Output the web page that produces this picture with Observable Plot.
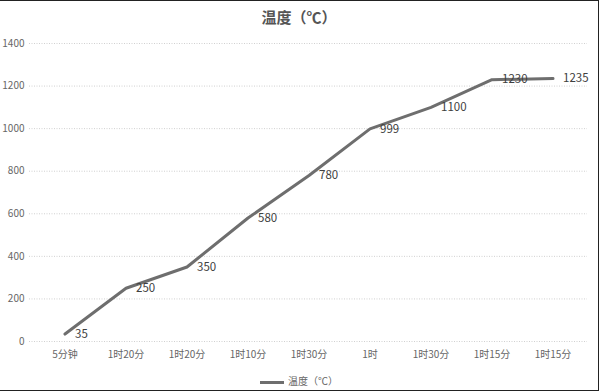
<!DOCTYPE html>
<html><head><meta charset="utf-8">
<script src="https://cdn.jsdelivr.net/npm/d3@7"></script>
<script src="https://cdn.jsdelivr.net/npm/@observablehq/plot@0.6"></script>
<style>
html,body{margin:0;padding:0;background:#fff;}
#wrap{position:relative;width:599px;height:391px;border-top:1px solid #222;border-right:1px solid #222;border-bottom:1px solid #222;box-sizing:border-box;overflow:hidden;font-family:"Noto Sans CJK SC","Liberation Sans",sans-serif;}
#title{height:31px;line-height:32px;text-align:center;font-size:15px;font-weight:bold;color:#555;}
#legend{position:absolute;left:0;right:0;top:372px;text-align:center;font-size:10px;color:#666;}
#legend span.sw{display:inline-block;width:24px;height:3px;background:#6e6e6e;vertical-align:middle;margin-right:4px;}
</style></head>
<body><div id="wrap"><div id="title">温度（℃）</div><div id="chart"></div><div id="legend"><span class="sw"></span>温度（℃）</div></div>
<script>
const categories = ["5分钟","1时20分","1时20分","1时10分","1时30分","1时","1时30分","1时15分","1时15分"];
const temps = [35,250,350,580,780,999,1100,1230,1235];
const yTicks = [0,200,400,600,800,1000,1200,1400];
const seriesName = "温度（℃）";

const data = temps.map((v,i)=>({i, v}));
const chart = Plot.plot({
  width: 598, height: 336,
  marginLeft: 29, marginRight: 11, marginTop: 11, marginBottom: 27,
  style:{fontFamily:'"Noto Sans CJK SC","Liberation Sans",sans-serif', fontSize:"10px", color:"#666", background:"transparent"},
  x:{type:"band", domain:d3.range(categories.length), tickFormat:i=>categories[i], label:null, tickSize:0, tickPadding:8},
  y:{domain:[0,1400], ticks:yTicks, label:null, tickSize:0, tickPadding:5},
  marks:[
    Plot.ruleY(yTicks,{stroke:"#d0d0d0", strokeDasharray:"1,1.5"}),
    Plot.axisX({tickSize:0, tickPadding:9, tickFormat:i=>categories[i], fill:"#666"}),
    Plot.axisY({ticks:yTicks, tickSize:0, tickPadding:5, tickFormat:d3.format("d"), fill:"#666"}),
    Plot.line(data,{x:"i", y:"v", stroke:"#6e6e6e", strokeWidth:3}),
    Plot.text(data,{x:"i", y:"v", text:d=>String(d.v), textAnchor:"start", dx:10, fill:"#404040", fontSize:11.5})
  ]
});
document.getElementById("chart").appendChild(chart);
</script></body></html>
